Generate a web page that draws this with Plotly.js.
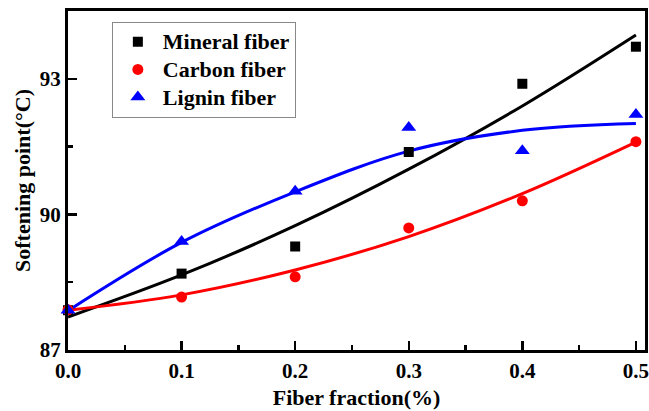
<!DOCTYPE html>
<html>
<head>
<meta charset="utf-8">
<script src="https://cdn.plot.ly/plotly-3.0.1.min.js"></script>
<style>html,body{margin:0;padding:0;background:#fff;}#chart{width:649px;height:411px;}</style>
</head>
<body>
<div id="chart"></div>
<script>
// Data
var fraction = [0.0, 0.1, 0.2, 0.3, 0.4, 0.5];
var mineral = [87.88, 88.69, 89.29, 91.38, 92.89, 93.71];
var carbon = [87.89, 88.17, 88.62, 89.70, 90.30, 91.61];
var lignin = [87.88, 89.40, 90.51, 91.92, 91.41, 92.21];
// Fitted curves at the same fractions
var mineralFit = [87.73, 88.66, 89.75, 91.00, 92.40, 93.97];
var carbonFit = [87.88, 88.22, 88.77, 89.51, 90.46, 91.60];
var ligninFit = [87.87, 89.38, 90.50, 91.40, 91.86, 92.01];
var seriesNames = ["Mineral fiber", "Carbon fiber", "Lignin fiber"];
var xTickVals = [0.0, 0.1, 0.2, 0.3, 0.4, 0.5];
var yTickVals = [87, 90, 93];

var FONT = "Liberation Serif, Times New Roman, serif";

function fitTrace(y, color) {
  return {x: fraction, y: y, mode: "lines", type: "scatter", showlegend: false,
    line: {color: color, width: 3, shape: "spline", smoothing: 1}, hoverinfo: "skip", cliponaxis: false};
}
function markTrace(y, name, color, symbol, size) {
  return {x: fraction, y: y, mode: "markers", type: "scatter",
    name: "<span style='font-size:22px'>" + name + "</span>",
    marker: {color: color, symbol: symbol, size: size}, cliponaxis: false};
}

var data = [
  fitTrace(mineralFit, "#000000"),
  fitTrace(carbonFit, "#ff0000"),
  fitTrace(ligninFit, "#0000ff"),
  markTrace(mineral, seriesNames[0], "#000000", "square", 10),
  markTrace(carbon, seriesNames[1], "#ff0000", "circle", 11),
  markTrace(lignin, seriesNames[2], "#0000ff", "triangle-up", 13)
];

var layout = {
  width: 649, height: 411,
  margin: {l: 68, r: 4, t: 11, b: 61},
  paper_bgcolor: "#ffffff", plot_bgcolor: "#ffffff",
  font: {family: FONT, size: 21, color: "#000", weight: "bold"},
  showlegend: true,
  legend: {x: 0.076, y: 0.968, xanchor: "left", yanchor: "top",
    bordercolor: "#888888", borderwidth: 1, bgcolor: "rgba(255,255,255,0)",
    font: {family: FONT, size: 19, color: "#000", weight: "bold"},
    itemwidth: 40, tracegroupgap: 0},
  xaxis: {
    range: [0, 0.508], tickvals: xTickVals, tickformat: ".1f",
    ticklabeloverflow: "allow",
    showgrid: false, zeroline: false,
    showline: true, linecolor: "#000", linewidth: 3, mirror: true,
    ticks: "inside", ticklen: 9, tickwidth: 2.5, tickcolor: "#000",
    minor: {ticks: "inside", ticklen: 5, tickwidth: 2.5, tickcolor: "#000", dtick: 0.05, showgrid: false},
    tickfont: {family: FONT, size: 21, color: "#000", weight: "bold"},
    title: {text: "Fiber fraction(%)", font: {family: FONT, size: 22, color: "#000", weight: "bold"}, standoff: 8}
  },
  yaxis: {
    range: [87, 94.5], tickvals: yTickVals,
    showgrid: false, zeroline: false,
    showline: true, linecolor: "#000", linewidth: 3, mirror: true,
    ticks: "inside", ticklen: 9, tickwidth: 2.5, tickcolor: "#000",
    minor: {ticks: "inside", ticklen: 5, tickwidth: 2.5, tickcolor: "#000", dtick: 1.5, showgrid: false},
    tickfont: {family: FONT, size: 21, color: "#000", weight: "bold"},
    title: {text: "Softening point(°C)", font: {family: FONT, size: 22, color: "#000", weight: "bold"}, standoff: 4}
  }
};

Plotly.newPlot("chart", data, layout, {staticPlot: true, displayModeBar: false});
</script>
</body>
</html>
